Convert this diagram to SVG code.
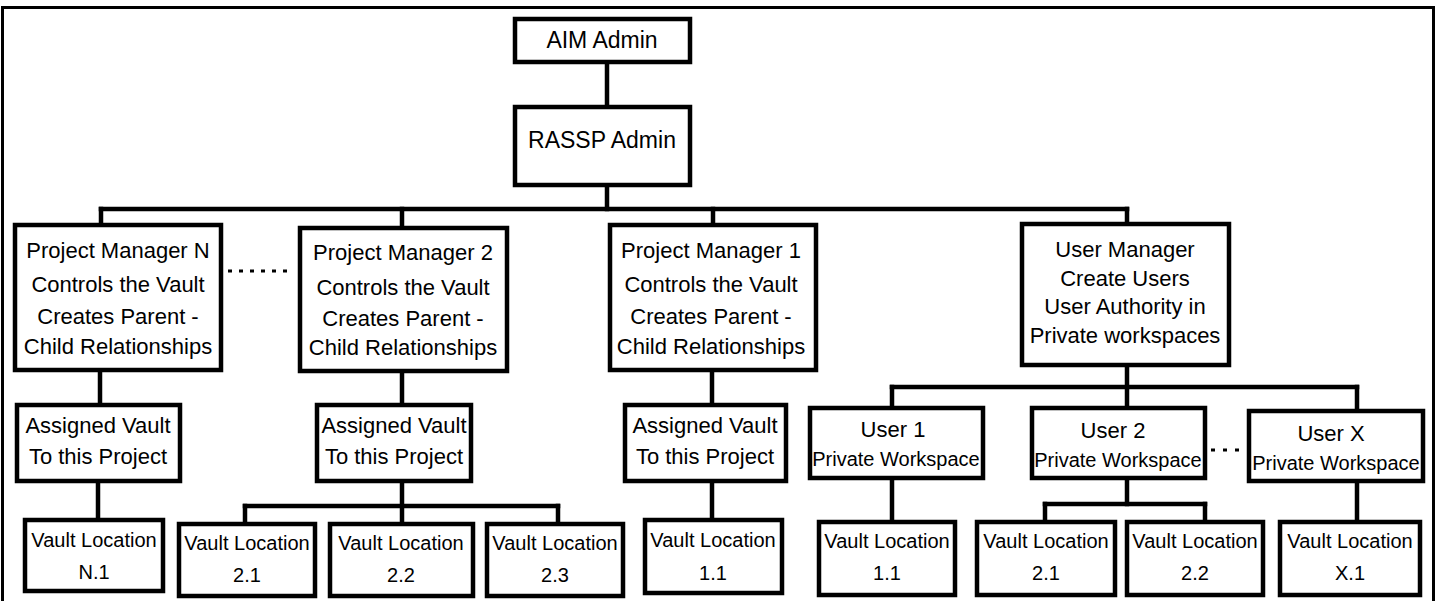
<svg xmlns="http://www.w3.org/2000/svg" width="1438" height="601" viewBox="0 0 1438 601">
  <style>
    .box { fill: #ffffff; stroke: #000000; stroke-width: 4.5; }
    .conn { stroke: #000000; stroke-width: 4.5; fill: none; stroke-linecap: square; }
    .dots { stroke: #000000; stroke-width: 3; fill: none; }
    text { font-family: "Liberation Sans", Arial, sans-serif; fill: #000000; text-anchor: middle; }
    .t23 { font-size: 23px; }
    .t22 { font-size: 22px; }
    .t20 { font-size: 20px; }
  </style>
  <rect x="0" y="0" width="1438" height="601" fill="#ffffff"/>
  <rect x="2.5" y="7.5" width="1431" height="600" fill="none" stroke="#000" stroke-width="3"/>

  <g id="connectors">
    <line class="conn" x1="607" y1="64" x2="607" y2="105"/>
    <line class="conn" x1="607" y1="187" x2="607" y2="209"/>
    <line class="conn" x1="101" y1="209" x2="1127" y2="209"/>
    <line class="conn" x1="101" y1="209" x2="101" y2="225"/>
    <line class="conn" x1="402" y1="209" x2="402" y2="228"/>
    <line class="conn" x1="713" y1="209" x2="713" y2="225"/>
    <line class="conn" x1="1127" y1="209" x2="1127" y2="224"/>
    <line class="conn" x1="100" y1="372" x2="100" y2="405"/>
    <line class="conn" x1="98" y1="483" x2="98" y2="520"/>
    <line class="conn" x1="402" y1="373" x2="402" y2="405"/>
    <line class="conn" x1="402" y1="483" x2="402" y2="524"/>
    <line class="conn" x1="245" y1="506" x2="558" y2="506"/>
    <line class="conn" x1="245" y1="506" x2="245" y2="524"/>
    <line class="conn" x1="558" y1="506" x2="558" y2="524"/>
    <line class="conn" x1="712" y1="372" x2="712" y2="405"/>
    <line class="conn" x1="712" y1="483" x2="712" y2="520"/>
    <line class="conn" x1="1127" y1="367" x2="1127" y2="408"/>
    <line class="conn" x1="892" y1="387" x2="1357" y2="387"/>
    <line class="conn" x1="892" y1="387" x2="892" y2="408"/>
    <line class="conn" x1="1357" y1="387" x2="1357" y2="411"/>
    <line class="conn" x1="892" y1="480" x2="892" y2="522"/>
    <line class="conn" x1="1127" y1="480" x2="1127" y2="504"/>
    <line class="conn" x1="1045" y1="504" x2="1205" y2="504"/>
    <line class="conn" x1="1045" y1="504" x2="1045" y2="522"/>
    <line class="conn" x1="1205" y1="504" x2="1205" y2="522"/>
    <line class="conn" x1="1357" y1="483" x2="1357" y2="522"/>
    <line class="dots" x1="228" y1="271" x2="294" y2="271" stroke-dasharray="4 7"/>
    <line class="dots" x1="1211" y1="450" x2="1243" y2="450" stroke-dasharray="4 8"/>
  </g>

  <g id="aim-admin">
    <rect class="box" x="515" y="19" width="175" height="43"/>
    <text class="t23" x="602" y="48">AIM Admin</text>
  </g>
  <g id="rassp-admin">
    <rect class="box" x="515" y="107" width="175" height="78"/>
    <text class="t23" x="602" y="148">RASSP Admin</text>
  </g>

  <g id="pm-n">
    <rect class="box" x="15" y="225" width="206" height="145"/>
    <text class="t22" x="118" y="258">Project Manager N</text>
    <text class="t22" x="118" y="292">Controls the Vault</text>
    <text class="t22" x="118" y="324">Creates Parent -</text>
    <text class="t22" x="118" y="354">Child Relationships</text>
  </g>
  <g id="pm-2">
    <rect class="box" x="300" y="228" width="207" height="143"/>
    <text class="t22" x="403" y="260">Project Manager 2</text>
    <text class="t22" x="403" y="295">Controls the Vault</text>
    <text class="t22" x="403" y="326">Creates Parent -</text>
    <text class="t22" x="403" y="355">Child Relationships</text>
  </g>
  <g id="pm-1">
    <rect class="box" x="610" y="225" width="206" height="145"/>
    <text class="t22" x="711" y="258">Project Manager 1</text>
    <text class="t22" x="711" y="292">Controls the Vault</text>
    <text class="t22" x="711" y="324">Creates Parent -</text>
    <text class="t22" x="711" y="354">Child Relationships</text>
  </g>
  <g id="user-manager">
    <rect class="box" x="1022" y="224" width="207" height="141"/>
    <text class="t22" x="1125" y="257">User Manager</text>
    <text class="t22" x="1125" y="286">Create Users</text>
    <text class="t22" x="1125" y="314">User Authority in</text>
    <text class="t22" x="1125" y="343">Private workspaces</text>
  </g>

  <g id="assigned-n">
    <rect class="box" x="17" y="405" width="163" height="76"/>
    <text class="t22" x="98" y="433">Assigned Vault</text>
    <text class="t22" x="98" y="464">To this Project</text>
  </g>
  <g id="assigned-2">
    <rect class="box" x="317" y="405" width="154" height="76"/>
    <text class="t22" x="394" y="433">Assigned Vault</text>
    <text class="t22" x="394" y="464">To this Project</text>
  </g>
  <g id="assigned-1">
    <rect class="box" x="625" y="405" width="161" height="76"/>
    <text class="t22" x="705" y="433">Assigned Vault</text>
    <text class="t22" x="705" y="464">To this Project</text>
  </g>

  <g id="user-1">
    <rect class="box" x="810" y="408" width="173" height="70"/>
    <text class="t22" x="893" y="437">User 1</text>
    <text class="t20" x="896" y="466">Private Workspace</text>
  </g>
  <g id="user-2">
    <rect class="box" x="1032" y="408" width="173" height="70"/>
    <text class="t22" x="1113" y="438">User 2</text>
    <text class="t20" x="1118" y="467">Private Workspace</text>
  </g>
  <g id="user-x">
    <rect class="box" x="1249" y="411" width="174" height="70"/>
    <text class="t22" x="1331" y="441">User X</text>
    <text class="t20" x="1336" y="470">Private Workspace</text>
  </g>

  <g id="vault-n1">
    <rect class="box" x="25" y="520" width="138" height="71"/>
    <text class="t20" x="94" y="547">Vault Location</text>
    <text class="t20" x="94" y="579">N.1</text>
  </g>
  <g id="vault-2-1">
    <rect class="box" x="179" y="524" width="136" height="72"/>
    <text class="t20" x="247" y="550">Vault Location</text>
    <text class="t20" x="247" y="582">2.1</text>
  </g>
  <g id="vault-2-2">
    <rect class="box" x="330" y="524" width="143" height="72"/>
    <text class="t20" x="401" y="550">Vault Location</text>
    <text class="t20" x="401" y="582">2.2</text>
  </g>
  <g id="vault-2-3">
    <rect class="box" x="487" y="524" width="136" height="72"/>
    <text class="t20" x="555" y="550">Vault Location</text>
    <text class="t20" x="555" y="582">2.3</text>
  </g>
  <g id="vault-1-1">
    <rect class="box" x="645" y="520" width="137" height="73"/>
    <text class="t20" x="713" y="547">Vault Location</text>
    <text class="t20" x="713" y="580">1.1</text>
  </g>
  <g id="vault-u1-1">
    <rect class="box" x="819" y="522" width="136" height="73"/>
    <text class="t20" x="887" y="548">Vault Location</text>
    <text class="t20" x="887" y="580">1.1</text>
  </g>
  <g id="vault-u2-1">
    <rect class="box" x="977" y="522" width="138" height="73"/>
    <text class="t20" x="1046" y="548">Vault Location</text>
    <text class="t20" x="1046" y="580">2.1</text>
  </g>
  <g id="vault-u2-2">
    <rect class="box" x="1127" y="522" width="136" height="73"/>
    <text class="t20" x="1195" y="548">Vault Location</text>
    <text class="t20" x="1195" y="580">2.2</text>
  </g>
  <g id="vault-x-1">
    <rect class="box" x="1280" y="522" width="140" height="73"/>
    <text class="t20" x="1350" y="548">Vault Location</text>
    <text class="t20" x="1350" y="580">X.1</text>
  </g>
</svg>
